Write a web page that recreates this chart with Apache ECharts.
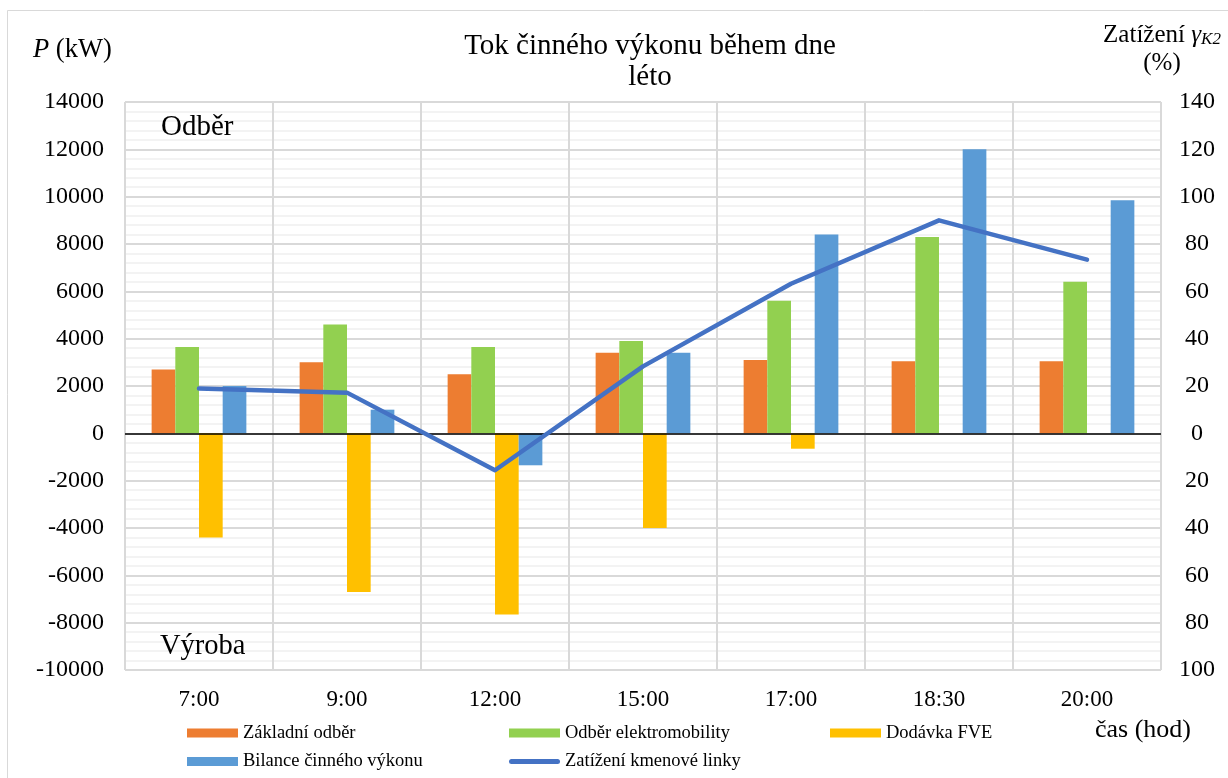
<!DOCTYPE html>
<html>
<head>
<meta charset="utf-8">
<script src="https://cdn.jsdelivr.net/npm/echarts@6/dist/echarts.min.js"></script>
<style>
html, body { margin: 0; padding: 0; background: #fff; }
#chart { width: 1228px; height: 778px; }
</style>
</head>
<body>
<div id="chart"></div>
<script>
// data
var casy = ['7:00', '9:00', '12:00', '15:00', '17:00', '18:30', '20:00']
var zakladniOdber = [2700, 3000, 2500, 3400, 3100, 3050, 3050]
var odberElektromobility = [3650, 4600, 3650, 3900, 5600, 8300, 6400]
var dodavkaFVE = [-4400, -6700, -7650, -4000, -650, 0, 0]
var bilance = [2000, 1000, -1350, 3400, 8400, 12000, 9850]
var zatizeniLinky = [18.9, 17.2, -15.6, 28.3, 63.2, 90, 73.4]

var font = 'Liberation Serif'
var grid = { left: 125, right: 67, top: 102, bottom: 108 }

var chart = echarts.init(document.getElementById('chart'))

function barSeries(name, color, values) {
    return {
        name: name,
        type: 'bar',
        barGap: '0%',
        barCategoryGap: '36%',
        itemStyle: { color: color },
        data: values
    }
}

var zero = barSeries('Základní odběr', '#ED7D31', zakladniOdber)
zero.markLine = {
    silent: true,
    symbol: 'none',
    label: { show: false },
    lineStyle: { color: '#000', width: 1.5, type: 'solid' },
    data: [{ yAxis: 0 }]
}

// rounded thick line for the legend of the line series
var lineIcon = 'path://M2.5,0 L48.5,0 A2.5,2.5 0 0 1 48.5,5 L2.5,5 A2.5,2.5 0 0 1 2.5,0 Z'

function text(x, y, str, size, extra) {
    return {
        type: 'text',
        silent: true,
        z: 100,
        style: Object.assign({
            x: x, y: y,
            verticalAlign: 'middle',
            text: str,
            font: size + 'px ' + font,
            fill: '#000'
        }, extra || {})
    }
}

var options = {
    animation: false,
    backgroundColor: '#fff',
    textStyle: { fontFamily: font },
    title: {
        text: 'Tok činného výkonu během dne\nléto',
        left: 645,
        top: 26,
        textAlign: 'center',
        textStyle: { fontFamily: font, fontSize: 29, fontWeight: 'normal', color: '#000', lineHeight: 31 }
    },
    legend: [
        { data: [{ name: 'Základní odběr', icon: 'rect' }, { name: 'Bilance činného výkonu', icon: 'rect' }], left: 187 },
        { data: [{ name: 'Odběr elektromobility', icon: 'rect' }, { name: 'Zatížení kmenové linky', icon: lineIcon }], left: 509 },
        { data: [{ name: 'Dodávka FVE', icon: 'rect' }], left: 830 }
    ].map(function (l) {
        return Object.assign({
            orient: 'vertical',
            top: 723,
            itemWidth: 51,
            itemHeight: 9,
            itemGap: 8.5,
            padding: 0,
            selectedMode: false,
            textStyle: { fontFamily: font, fontSize: 18.5, color: '#000', lineHeight: 20 }
        }, l)
    }),
    grid: Object.assign({ outerBoundsMode: 'none', containLabel: false }, grid),
    xAxis: {
        type: 'category',
        data: casy,
        axisLine: { show: false },
        axisTick: { show: false },
        splitLine: { show: true, lineStyle: { color: '#d9d9d9', width: 2 } },
        axisLabel: { fontFamily: font, fontSize: 23, color: '#000', margin: 18 }
    },
    yAxis: [
        {
            type: 'value',
            min: -10000,
            max: 14000,
            interval: 2000,
            axisLine: { show: false },
            axisTick: { show: false },
            axisLabel: { fontFamily: font, fontSize: 24, color: '#000', margin: 21, formatter: function (v) { return String(v) } },
            splitLine: { lineStyle: { color: '#d9d9d9', width: 2 } },
            minorTick: { show: false, splitNumber: 5 },
            minorSplitLine: { show: true, lineStyle: { color: '#efefef', width: 1.5 } }
        },
        {
            type: 'value',
            min: -100,
            max: 140,
            interval: 20,
            axisLine: { show: false },
            axisTick: { show: false },
            splitLine: { show: false },
            axisLabel: { fontFamily: font, fontSize: 24, color: '#000', margin: 36, align: 'center', formatter: function (v) { return String(Math.abs(v)) } }
        }
    ],
    graphic: [
        { type: 'rect', silent: true, shape: { x: 7.5, y: 10.5, width: 1240, height: 800 }, style: { fill: 'none', stroke: '#d9d9d9', lineWidth: 1 } },
        text(33, 50, '{i|P} (kW)', 26.5, { rich: { i: { fontStyle: 'italic', fontSize: 26.5, fontFamily: font } } }),
        text(1162, 35, 'Zatížení {g|γ}{s|K2}', 25, { align: 'center', rich: { g: { fontStyle: 'italic', fontSize: 25, fontFamily: font }, s: { fontStyle: 'italic', fontSize: 17, fontFamily: font, padding: [10, 0, 0, 0] } } }),
        text(1162, 63, '(%)', 25, { align: 'center' }),
        text(161, 127, 'Odběr', 29),
        text(160, 647, 'Výroba', 28.5),
        text(1095, 730, 'čas (hod)', 26)
    ],
    series: [
        zero,
        barSeries('Odběr elektromobility', '#92D050', odberElektromobility),
        barSeries('Dodávka FVE', '#FFC000', dodavkaFVE),
        barSeries('Bilance činného výkonu', '#5B9BD5', bilance),
        {
            name: 'Zatížení kmenové linky',
            type: 'line',
            yAxisIndex: 1,
            symbol: 'none',
            z: 5,
            lineStyle: { color: '#4472C4', width: 4.5, cap: 'round', join: 'round' },
            itemStyle: { color: '#4472C4' },
            data: zatizeniLinky
        }
    ]
}

chart.setOption(options)
</script>
</body>
</html>
